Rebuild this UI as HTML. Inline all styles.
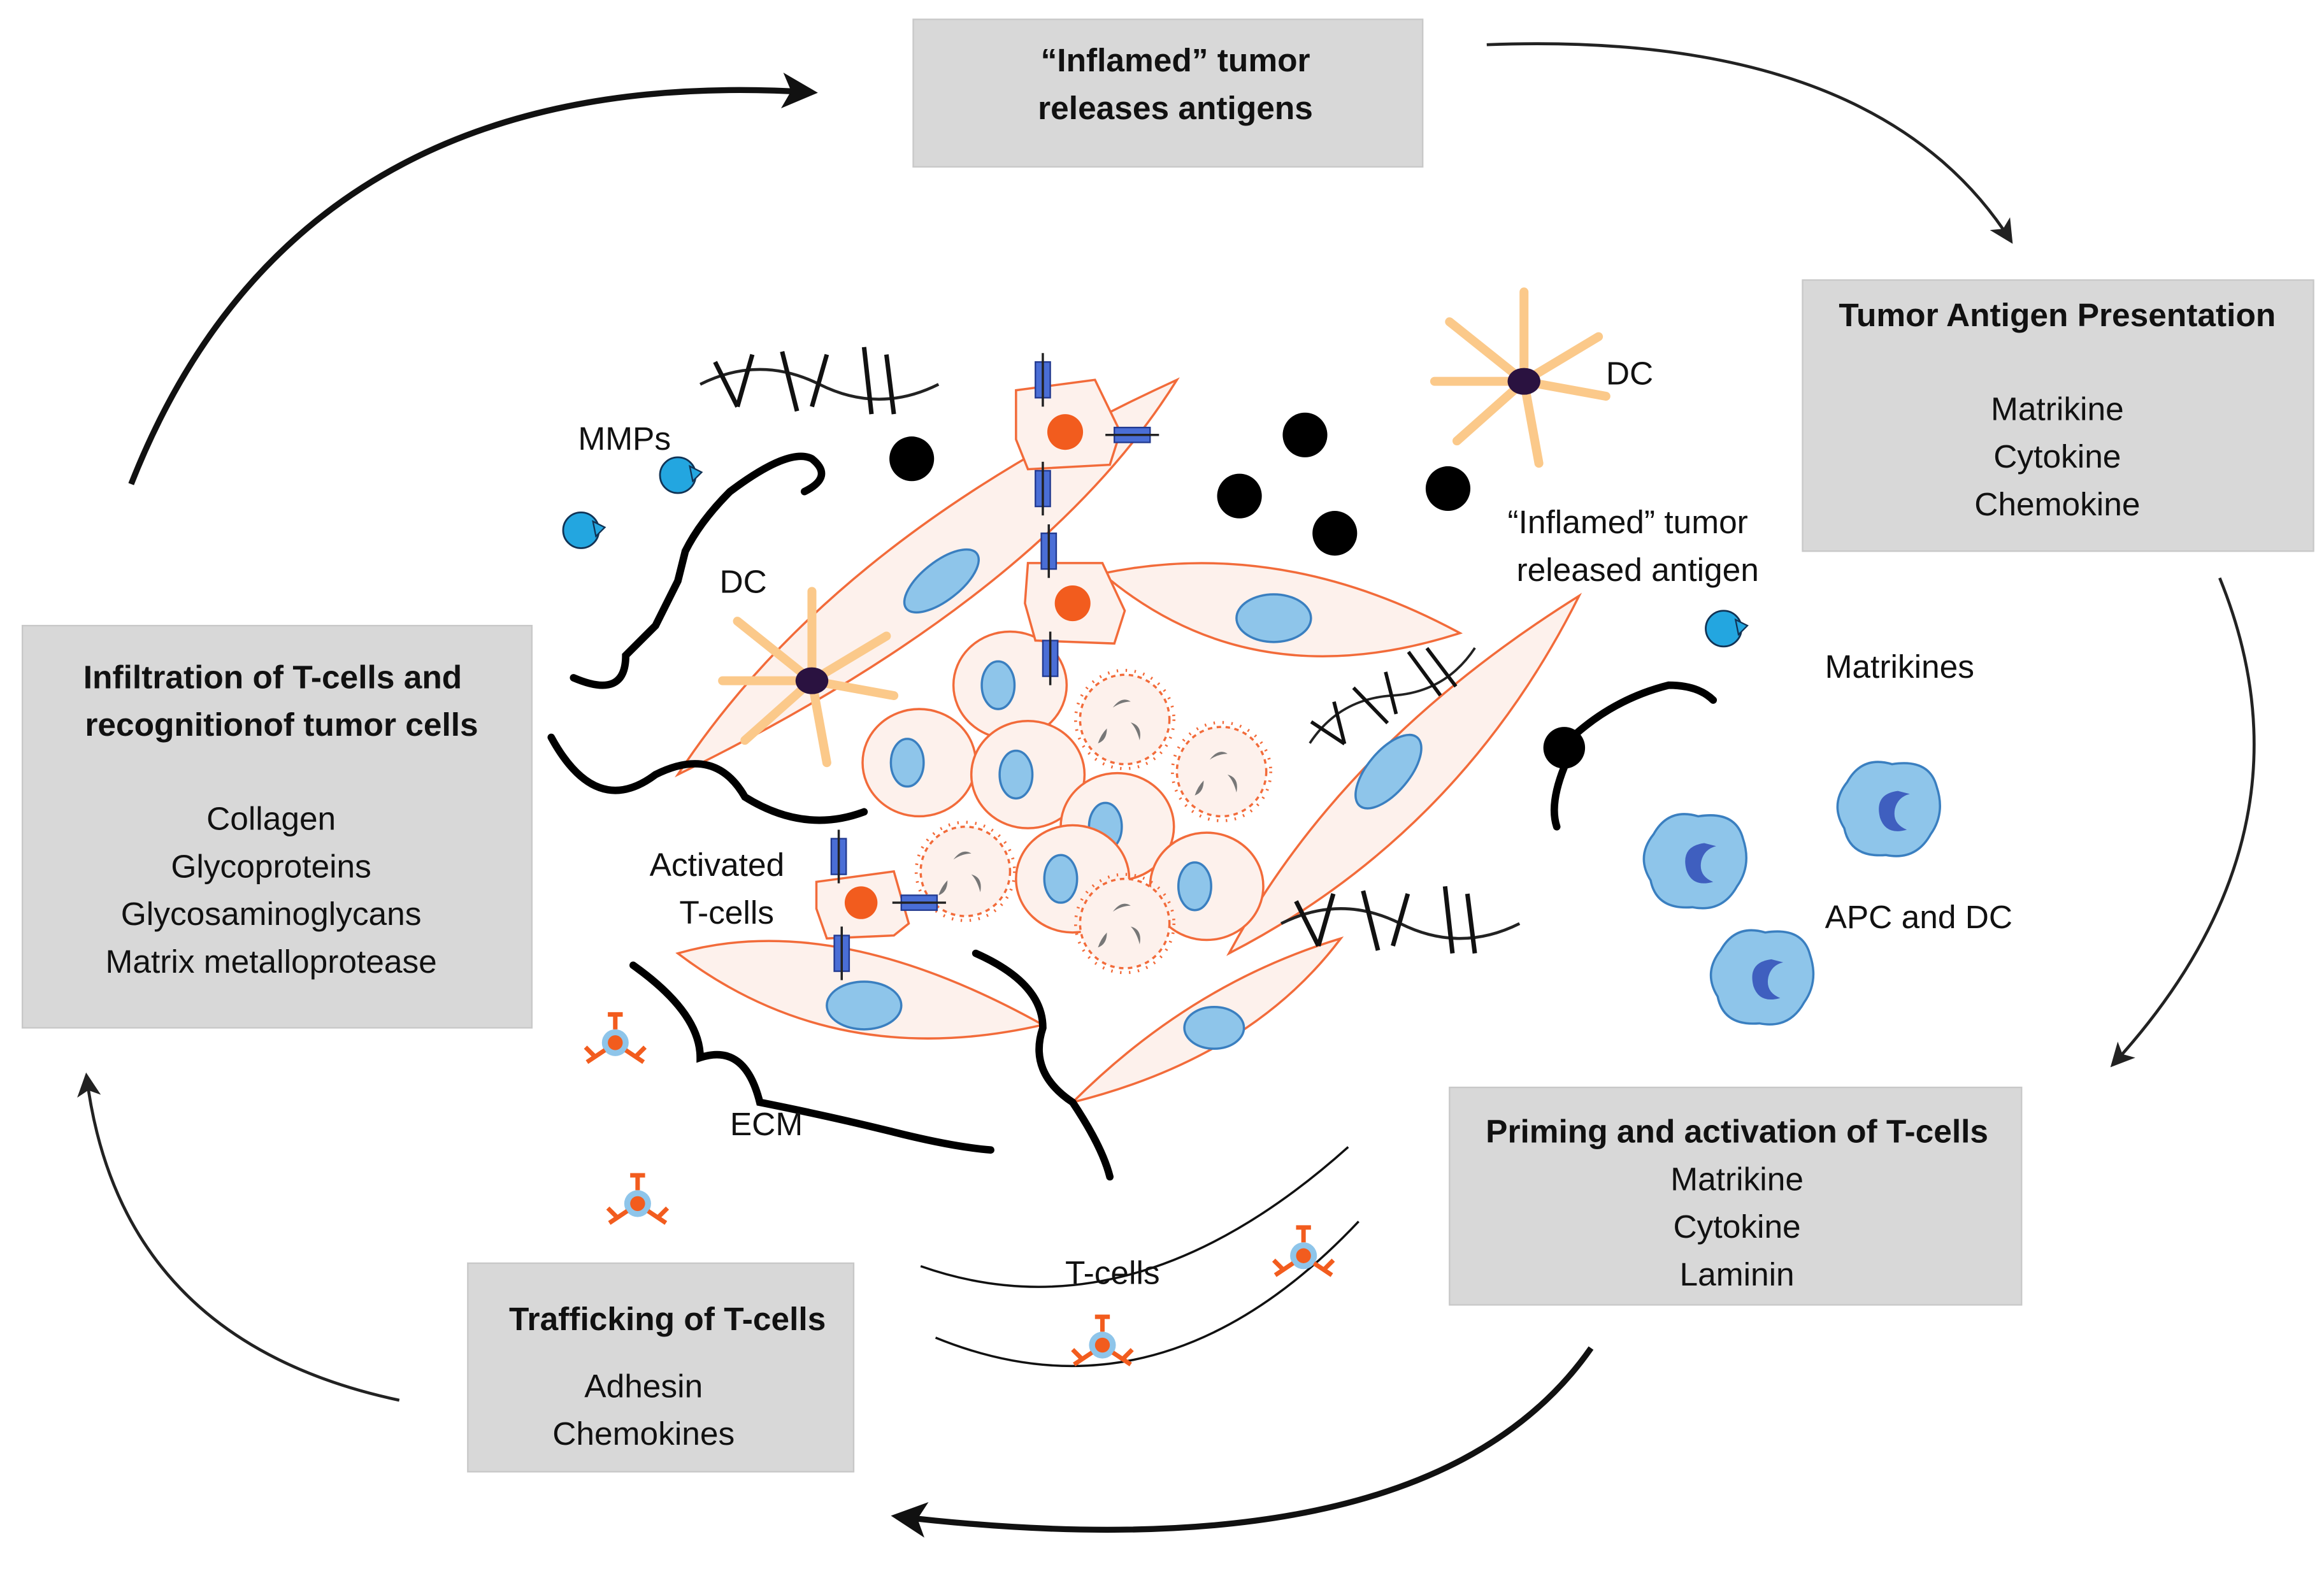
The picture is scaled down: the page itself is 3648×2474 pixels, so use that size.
<!DOCTYPE html>
<html><head><meta charset="utf-8"><style>
html,body{margin:0;padding:0;background:#fff}
svg{display:block}
text{font-family:"Liberation Sans",sans-serif;fill:#111}
.b{font-weight:bold}
</style></head><body>
<svg width="3648" height="2474" viewBox="0 0 1560 1058" xmlns="http://www.w3.org/2000/svg">
<defs>
<marker id="ah" markerWidth="10" markerHeight="10" refX="8" refY="5" orient="auto" markerUnits="userSpaceOnUse" viewBox="0 0 10 10"><path d="M0,0 L10,5 L0,10 L3,5 z" fill="#222"/></marker>
<marker id="ahb" markerWidth="28" markerHeight="28" refX="22" refY="14" orient="auto" markerUnits="userSpaceOnUse" viewBox="0 0 28 28"><path d="M2,2 L26,14 L2,26 L8,14 z" fill="#111"/></marker>
<marker id="ahs" markerWidth="18" markerHeight="18" refX="15" refY="9" orient="auto" markerUnits="userSpaceOnUse" viewBox="0 0 18 18"><path d="M1,1 L17,9 L1,17 L5,9 z" fill="#222"/></marker>
<g id="spk"><circle r="30" fill="#fdf1ec" stroke="#f26b3a" stroke-width="1.5" stroke-dasharray="3 3"/><circle r="33" fill="none" stroke="#f26b3a" stroke-width="2" stroke-dasharray="1 5"/><path d="M-8,-8 q6,-8 12,-4 q-6,0 -12,4z M4,2 q8,2 6,12 q-2,-8 -6,-12z M-12,6 q0,8 -6,10 q2,-6 6,-10z" fill="#777"/></g>
<g id="tc"><ellipse rx="38" ry="36" fill="#fdf1ec" stroke="#f26b3a" stroke-width="1.5"/><ellipse cx="-8" rx="11" ry="16" fill="#8ec5ea" stroke="#3a7fc0" stroke-width="1.5"/></g>
<g id="tcell"><circle r="9" fill="#8ec5ea"/><circle r="5" fill="#f25c1e"/><path d="M0,-9 v-10 M-5,-19 h10 M7,5 l12,8 M14,9 l6,-6 M-7,5 l-12,8 M-14,9 l-6,-6" stroke="#f25c1e" stroke-width="3" fill="none"/></g>
<g id="apc"><path d="M-30,-20 q10,-18 30,-12 q25,-4 30,15 q6,18 -4,32 q-10,18 -30,14 q-24,2 -28,-18 q-10,-16 2,-31z" fill="#8ec5ea" stroke="#3a7fc0" stroke-width="1.5"/><path d="M4,-14 q-16,2 -12,18 q4,12 18,8 q-10,-4 -8,-14 q2,-8 10,-10z" fill="#3f5fbf"/></g>
<g id="dc"><path d="M0,0 L-50,-40 M0,0 L0,-60 M0,0 L50,-30 M0,0 L55,10 M0,0 L10,55 M0,0 L-45,40 M0,0 L-60,0" stroke="#fbc98a" stroke-width="6" stroke-linecap="round"/><ellipse rx="11" ry="9" fill="#2a1240"/></g>
<g id="mmp"><circle r="12" fill="#23a6e0" stroke="#135" stroke-width="1.2"/><path d="M8,-6 l8,4 l-6,6z" fill="#23a6e0" stroke="#135"/></g>
<g id="ydna"><path d="M0,0 q40,-20 80,0 t80,0" fill="none" stroke="#222" stroke-width="2"/><path d="M10,-15 l15,30 M35,-20 l-10,35 M55,-22 l10,40 M85,-20 l-10,35 M110,-25 l5,45 M125,-20 l5,40" stroke="#111" stroke-width="3"/></g>
<g id="rcp"><rect x="-5" y="-12" width="10" height="24" fill="#4a6ed6" stroke="#223a90"/><path d="M0,-18 v36" stroke="#222" stroke-width="1.5"/></g>
</defs>

<!-- boxes -->
<rect x="613" y="13" width="342" height="99" fill="#d8d8d8" stroke="#c8c8c8"/>
<text x="789" y="48" class="b" font-size="22" text-anchor="middle">“Inflamed” tumor</text>
<text x="789" y="80" class="b" font-size="22" text-anchor="middle">releases antigens</text>

<rect x="1210" y="188" width="343" height="182" fill="#d8d8d8" stroke="#c8c8c8"/>
<text x="1381" y="219" class="b" font-size="22" text-anchor="middle">Tumor Antigen Presentation</text>
<text x="1381" y="282" font-size="22" text-anchor="middle">Matrikine</text>
<text x="1381" y="314" font-size="22" text-anchor="middle">Cytokine</text>
<text x="1381" y="346" font-size="22" text-anchor="middle">Chemokine</text>

<rect x="15" y="420" width="342" height="270" fill="#d8d8d8" stroke="#c8c8c8"/>
<text x="183" y="462" class="b" font-size="22" text-anchor="middle">Infiltration of T-cells and</text>
<text x="189" y="494" class="b" font-size="22" text-anchor="middle">recognitionof tumor cells</text>
<text x="182" y="557" font-size="22" text-anchor="middle">Collagen</text>
<text x="182" y="589" font-size="22" text-anchor="middle">Glycoproteins</text>
<text x="182" y="621" font-size="22" text-anchor="middle">Glycosaminoglycans</text>
<text x="182" y="653" font-size="22" text-anchor="middle">Matrix metalloprotease</text>

<rect x="973" y="730" width="384" height="146" fill="#d8d8d8" stroke="#c8c8c8"/>
<text x="1166" y="767" class="b" font-size="22" text-anchor="middle">Priming and activation of T-cells</text>
<text x="1166" y="799" font-size="22" text-anchor="middle">Matrikine</text>
<text x="1166" y="831" font-size="22" text-anchor="middle">Cytokine</text>
<text x="1166" y="863" font-size="22" text-anchor="middle">Laminin</text>

<rect x="314" y="848" width="259" height="140" fill="#d8d8d8" stroke="#c8c8c8"/>
<text x="448" y="893" class="b" font-size="22" text-anchor="middle">Trafficking of T-cells</text>
<text x="432" y="938" font-size="22" text-anchor="middle">Adhesin</text>
<text x="432" y="970" font-size="22" text-anchor="middle">Chemokines</text>

<!-- cycle arrows -->
<path d="M88,325 Q200,40 545,62" fill="none" stroke="#111" stroke-width="4" marker-end="url(#ahb)"/>
<path d="M998,30 Q1260,20 1350,162" fill="none" stroke="#222" stroke-width="2" marker-end="url(#ahs)"/>
<path d="M1490,388 Q1560,560 1418,715" fill="none" stroke="#222" stroke-width="2" marker-end="url(#ahs)"/>
<path d="M1068,905 Q960,1060 602,1018" fill="none" stroke="#111" stroke-width="4" marker-end="url(#ahb)"/>
<path d="M268,940 Q80,900 58,722" fill="none" stroke="#222" stroke-width="2" marker-end="url(#ahs)"/>

<!-- fibroblasts -->
<g fill="#fdf1ec" stroke="#f26b3a" stroke-width="1.5">
<path d="M455,520 Q560,360 790,255 Q700,400 455,520z"/>
<path d="M740,385 Q860,360 980,425 Q840,470 740,385z"/>
<path d="M825,640 Q900,500 1060,400 Q980,560 825,640z"/>
<path d="M455,640 Q560,610 700,688 Q560,720 455,640z"/>
<path d="M720,740 Q800,660 900,630 Q840,710 720,740z"/>
</g>
<g fill="#8ec5ea" stroke="#3a7fc0" stroke-width="1.5">
<ellipse cx="632" cy="390" rx="30" ry="13" transform="rotate(-38 632 390)"/>
<ellipse cx="855" cy="415" rx="25" ry="16"/>
<ellipse cx="932" cy="518" rx="30" ry="14" transform="rotate(-50 932 518)"/>
<ellipse cx="580" cy="675" rx="25" ry="16"/>
<ellipse cx="815" cy="690" rx="20" ry="14"/>
</g>

<!-- tumor cells cluster -->
<use href="#tc" x="678" y="460"/>
<use href="#tc" x="617" y="512"/>
<use href="#tc" x="690" y="520"/>
<use href="#tc" x="750" y="555"/>
<use href="#tc" x="720" y="590"/>
<use href="#tc" x="810" y="595"/>
<use href="#spk" x="755" y="483"/>
<use href="#spk" x="820" y="518"/>
<use href="#spk" x="648" y="585"/>
<use href="#spk" x="755" y="620"/>

<!-- activated T-cells with receptors -->
<g fill="#fdf1ec" stroke="#f26b3a" stroke-width="1.5">
<path d="M682,262 L735,255 L752,290 L745,312 L690,315 L682,295z"/>
<path d="M690,378 L740,378 L755,410 L748,432 L695,430 L688,405z"/>
<path d="M548,592 L600,585 L610,620 L600,628 L555,630 L548,610z"/>
</g>
<g fill="#f25c1e"><circle cx="715" cy="290" r="12"/><circle cx="720" cy="405" r="12"/><circle cx="578" cy="606" r="11"/></g>
<use href="#rcp" x="700" y="255"/><use href="#rcp" x="700" y="328"/><use href="#rcp" x="704" y="370"/><use href="#rcp" x="705" y="442"/>
<use href="#rcp" x="760" y="292" transform="rotate(90 760 292)"/>
<use href="#rcp" x="563" y="575"/><use href="#rcp" x="565" y="640"/>
<use href="#rcp" x="617" y="606" transform="rotate(90 617 606)"/>

<!-- DCs -->
<use href="#dc" x="1023" y="256"/>
<use href="#dc" x="545" y="457"/>
<text x="1078" y="258" font-size="22">DC</text>
<text x="483" y="398" font-size="22">DC</text>

<!-- dots -->
<g fill="#000"><circle cx="612" cy="308" r="15"/><circle cx="876" cy="292" r="15"/><circle cx="832" cy="333" r="15"/><circle cx="896" cy="358" r="15"/><circle cx="972" cy="328" r="15"/><circle cx="1050" cy="502" r="14"/></g>

<!-- ECM fibers -->
<g fill="none" stroke="#000" stroke-width="5" stroke-linecap="round">
<path d="M385,455 Q420,470 420,440 L440,420 L455,390 L460,370 Q470,350 490,330 Q530,300 545,308 Q560,320 540,330"/>
<path d="M370,495 Q400,550 440,520 Q480,500 500,535 Q540,560 580,545"/>
<path d="M425,648 Q470,680 470,710 Q500,700 510,740 Q560,750 600,760 Q640,770 665,772"/>
<path d="M655,640 Q700,660 700,690 Q690,720 720,740 Q740,770 745,790"/>
<path d="M1050,515 Q1040,540 1045,555 M1050,500 Q1080,470 1120,460 Q1140,460 1150,470"/>
</g>
<use href="#ydna" x="470" y="258"/>
<use href="#ydna" x="860" y="620"/>
<use href="#ydna" x="1120" y="468" transform="rotate(-30 1120 468) scale(0.8)"/>
<use href="#mmp" x="455" y="319"/><use href="#mmp" x="390" y="356"/><use href="#mmp" x="1157" y="422"/>
<text x="388" y="302" font-size="22">MMPs</text>
<text x="1012" y="358" font-size="22">“Inflamed” tumor</text>
<text x="1018" y="390" font-size="22">released antigen</text>
<text x="1225" y="455" font-size="22">Matrikines</text>
<text x="436" y="588" font-size="22">Activated</text>
<text x="456" y="620" font-size="22">T-cells</text>
<text x="490" y="762" font-size="22">ECM</text>

<!-- APCs -->
<use href="#apc" x="1140" y="580"/>
<use href="#apc" x="1270" y="545"/>
<use href="#apc" x="1185" y="658"/>
<text x="1225" y="623" font-size="22">APC and DC</text>

<!-- vessel + T-cells -->
<path d="M618,850 Q760,900 905,770" fill="none" stroke="#111" stroke-width="1.5"/>
<path d="M628,898 Q780,960 912,820" fill="none" stroke="#111" stroke-width="1.5"/>
<text x="715" y="862" font-size="22">T-cells</text>
<use href="#tcell" x="413" y="700"/>
<use href="#tcell" x="428" y="808"/>
<use href="#tcell" x="875" y="843"/>
<use href="#tcell" x="740" y="903"/>
</svg>
</body></html>
